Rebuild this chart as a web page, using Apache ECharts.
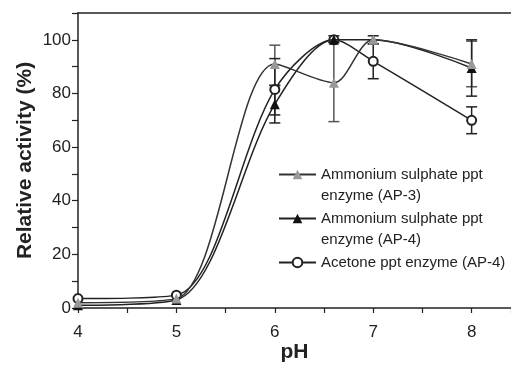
<!DOCTYPE html>
<html>
<head>
<meta charset="utf-8">
<script src="https://cdn.jsdelivr.net/npm/echarts@6/dist/echarts.min.js"></script>
<style>
  html, body { margin: 0; padding: 0; background: #fff; }
  #main { width: 511px; height: 365px; }
</style>
</head>
<body>
<div id="main"></div>
<script>
// pH values where activity was measured
const phValues = [4, 5, 6, 6.6, 7, 8];

// relative activity (%)
const ap3Activity = [2, 3.5, 91, 84, 100, 91];
const ap4Activity = [1, 3, 76, 100, 100, 89.5];
const acetoneActivity = [3.5, 4.8, 81.5, 100, 92, 70];

// error bars: [pH, low, high]
const ap3Err = [[6, 83, 98], [6.6, 69.5, 99], [8, 82.5, 99.5]];
const ap4Err = [[6, 69, 83], [6.6, 99, 101.5], [7, 98.5, 101.5], [8, 79, 100]];
const acetoneErr = [[6, 72, 93], [7, 85.5, 98.5], [8, 65, 75]];

const names = [
  "Ammonium sulphate ppt\nenzyme (AP-3)",
  "Ammonium sulphate ppt\nenzyme (AP-4)",
  "Acetone ppt enzyme (AP-4)"
];

const font = "Liberation Sans, Arial, sans-serif";

const chartDom = document.getElementById("main");
const myChart = echarts.init(chartDom);

function pairs(ys) {
  return phValues.map((x, i) => [x, ys[i]]);
}

function errRender(color) {
  return function (params, api) {
    const x = api.value(0);
    const lo = api.coord([x, api.value(1)]);
    const hi = api.coord([x, api.value(2)]);
    const w = 5.5;
    const style = { stroke: color, lineWidth: 1.5 };
    return {
      type: "group",
      children: [
        { type: "line", shape: { x1: lo[0], y1: lo[1], x2: hi[0], y2: hi[1] }, style: style },
        { type: "line", shape: { x1: lo[0] - w, y1: lo[1], x2: lo[0] + w, y2: lo[1] }, style: style },
        { type: "line", shape: { x1: hi[0] - w, y1: hi[1], x2: hi[0] + w, y2: hi[1] }, style: style }
      ]
    };
  };
}

const option = {
  animation: false,
  grid: { left: 78, right: 0, top: 13, bottom: 57, outerBoundsMode: "none", containLabel: false },
  legend: {
    orient: "vertical",
    left: 278,
    top: 143,
    padding: 0,
    itemWidth: 37,
    itemHeight: 12,
    itemGap: -19,
    textStyle: { fontSize: 15, color: "#222", lineHeight: 21, fontFamily: font },
    // blank lines keep the icon beside the first text line
    formatter: (n) => (n.indexOf("\n") >= 0 ? "\n" + n : "\n" + n + "\n"),
    data: names
  },
  xAxis: [
    {
      type: "value",
      min: 4,
      max: 8.4,
      interval: 0.5,
      name: "pH",
      nameLocation: "middle",
      nameGap: 34,
      nameMoveOverlap: false,
      nameTextStyle: { fontSize: 21, fontWeight: "bold", color: "#222", fontFamily: font },
      axisLine: { onZero: false, lineStyle: { color: "#222", width: 1.5 } },
      axisTick: { length: 5, lineStyle: { color: "#222", width: 1.2 } },
      axisLabel: {
        fontSize: 17,
        color: "#222",
        margin: 16,
        fontFamily: font,
        formatter: (v) => (Number.isInteger(v) ? String(v) : "")
      },
      splitLine: { show: false }
    },
    {
      type: "value",
      position: "top",
      min: 4,
      max: 8.4,
      axisLine: { show: true, onZero: false, lineStyle: { color: "#222", width: 1.5 } },
      axisTick: { show: false },
      axisLabel: { show: false },
      splitLine: { show: false }
    }
  ],
  yAxis: {
    type: "value",
    min: 0,
    max: 110,
    interval: 10,
    name: "Relative activity (%)",
    nameLocation: "middle",
    nameGap: 42,
    nameMoveOverlap: false,
    nameTextStyle: { fontSize: 21, fontWeight: "bold", color: "#222", fontFamily: font },
    axisLine: { show: true, lineStyle: { color: "#222", width: 1.5 } },
    axisTick: { length: 6, lineStyle: { color: "#222", width: 1.2 } },
    axisLabel: {
      fontSize: 17,
      color: "#222",
      margin: 7,
      fontFamily: font,
      formatter: (v) => (v % 20 === 0 && v <= 100 ? String(v) : "")
    },
    splitLine: { show: false }
  },
  series: [
    { type: "custom", name: "err-ap3", z: 1, renderItem: errRender("#555"), data: ap3Err },
    { type: "custom", name: "err-ap4", z: 1, renderItem: errRender("#222"), data: ap4Err },
    { type: "custom", name: "err-acetone", z: 1, renderItem: errRender("#222"), data: acetoneErr },
    {
      type: "line",
      name: names[2],
      data: pairs(acetoneActivity),
      smooth: 0.3,
      clip: false,
      symbol: "emptyCircle",
      symbolSize: 9,
      z: 3,
      lineStyle: { color: "#222", width: 1.5 },
      itemStyle: { color: "#222", borderWidth: 1.3 }
    },
    {
      type: "line",
      name: names[1],
      data: pairs(ap4Activity),
      smooth: 0.3,
      clip: false,
      symbol: "triangle",
      symbolSize: 10,
      z: 4,
      lineStyle: { color: "#222", width: 1.5 },
      itemStyle: { color: "#111" }
    },
    {
      type: "line",
      name: names[0],
      data: pairs(ap3Activity),
      smooth: 0.3,
      clip: false,
      symbol: "triangle",
      symbolSize: 10,
      z: 5,
      lineStyle: { color: "#333", width: 1.5 },
      itemStyle: { color: "#999" }
    }
  ]
};

myChart.setOption(option);
</script>
</body>
</html>
